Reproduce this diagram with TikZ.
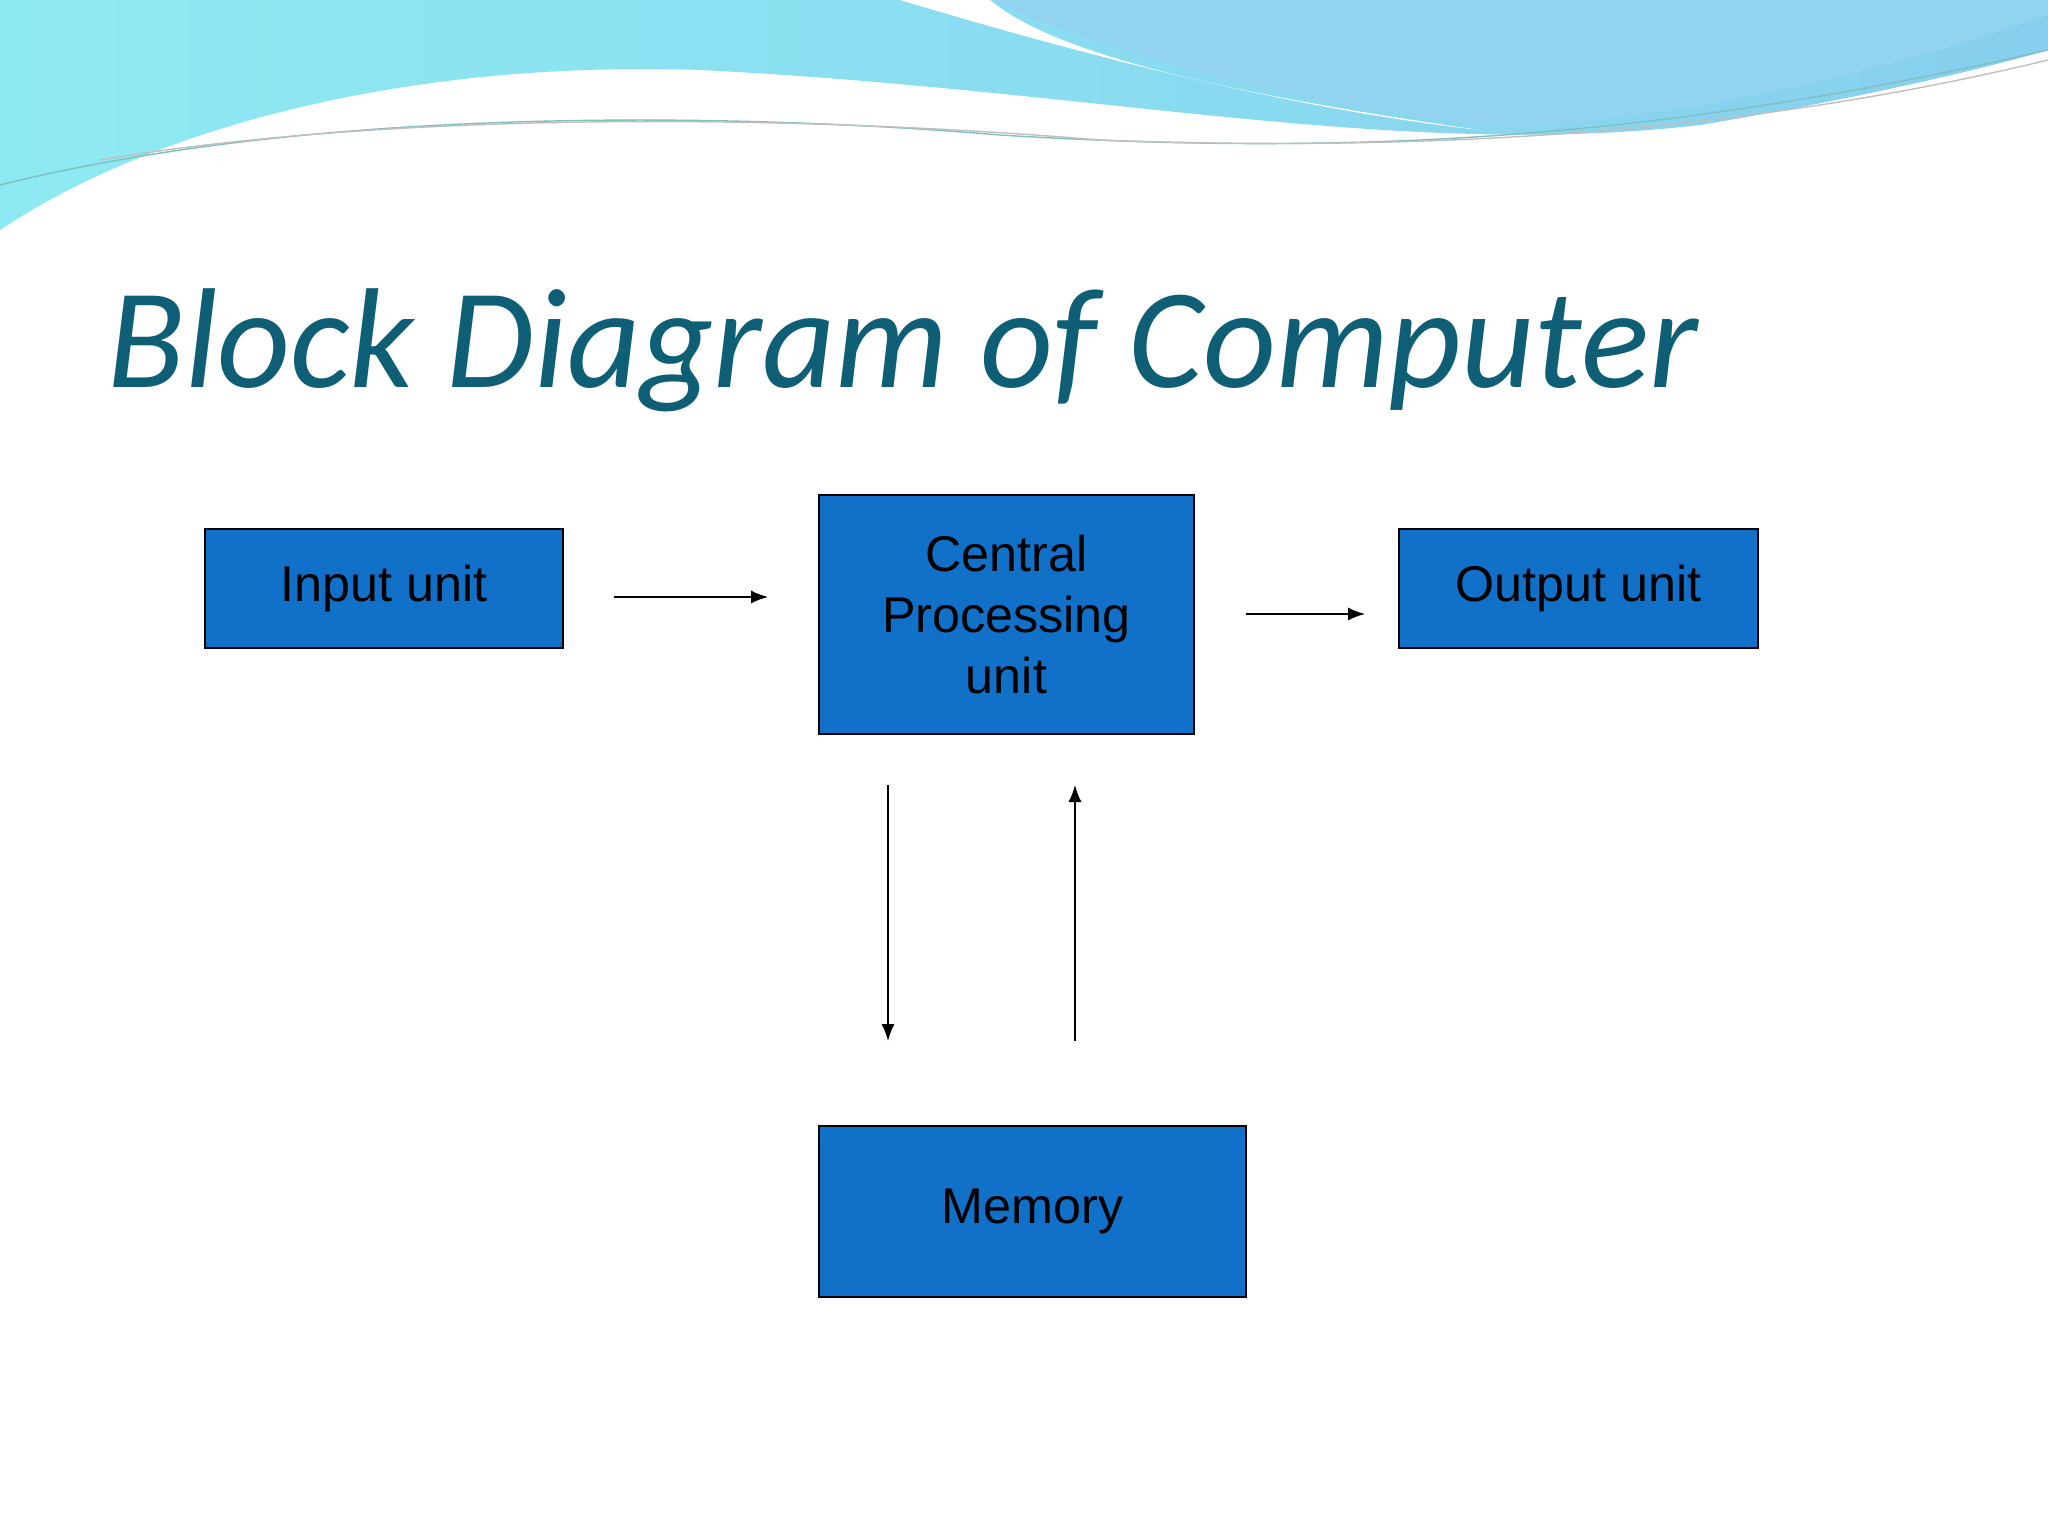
\documentclass[tikz,border=0pt]{standalone}
\usepackage{fontspec}
\setmainfont{Liberation Sans}
\newfontfamily\titlefont{Carlito}
\usetikzlibrary{positioning,arrows.meta}
\definecolor{boxblue}{HTML}{1170C8}
\definecolor{titleteal}{HTML}{0E5F75}
\definecolor{wavecyan}{HTML}{8EEAF2}
\definecolor{waveblue}{HTML}{86CFEE}
\tikzset{
  block/.style={rectangle,draw,fill=boxblue,font=\fontsize{14.3}{17.4}\selectfont,align=center,inner sep=0pt},
  flow/.style={-{Latex[length=1.7mm,width=1.3mm]},thin}
}
\begin{document}
\begin{tikzpicture}
  \useasboundingbox (0,0) rectangle (20.48,-15.36);
  % waves
  \shade[left color=wavecyan,right color=waveblue] (0,0) -- (0,-2.3)
    .. controls (1.5,-1.3) and (4,-0.6) .. (7,-0.7)
    .. controls (11,-0.9) and (14,-1.6) .. (17,-1.25)
    .. controls (18.5,-1) and (19.8,-0.7) .. (20.48,-0.5) -- (20.48,0) -- cycle;
  \fill[white] (9,0) .. controls (11,-0.6) and (13,-1.1) .. (14.8,-1.3)
    .. controls (12,-0.9) and (10.5,-0.5) .. (9.9,0) -- cycle;
  \fill[waveblue!90!white] (9.9,0) .. controls (11,-0.5) and (13,-1.1) .. (15.2,-1.28)
    .. controls (17.5,-1.1) and (19.5,-0.5) .. (20.48,-0.15) -- (20.48,0) -- cycle;
  \draw[teal!50,thin] (0,-1.85) .. controls (3,-1.1) and (7,-1.1) .. (10,-1.35)
    .. controls (14,-1.6) and (17,-1.3) .. (20.48,-0.5);
  \draw[gray!50,thin] (1,-1.6) .. controls (4,-1.1) and (8,-1.15) .. (11,-1.4)
    .. controls (15,-1.55) and (18,-1.2) .. (20.48,-0.6);
  % title
  \node[anchor=base west,text=titleteal,font=\titlefont\itshape\fontsize{40.5}{45}\selectfont,inner sep=0pt] (title) at (1.07,-3.88) {Block Diagram of Computer};
  % blocks
  \node[block,minimum width=3.58cm,minimum height=1.19cm] (input) at (3.84,-5.885) {Input unit};
  \node[block,minimum width=3.75cm,minimum height=2.39cm] (cpu) at (10.065,-6.145) {Central\\Processing\\unit};
  \node[block,minimum width=3.59cm,minimum height=1.19cm] (output) at (15.785,-5.885) {Output unit};
  \node[block,minimum width=4.27cm,minimum height=1.71cm] (memory) at (10.325,-12.115) {Memory};
  % connectors
  \coordinate (a1) at (6.14,-5.97);   \coordinate (a2) at (7.68,-5.97);
  \coordinate (b1) at (12.46,-6.14);  \coordinate (b2) at (13.65,-6.14);
  \coordinate (c1) at (8.88,-7.85);   \coordinate (c2) at (8.88,-10.41);
  \coordinate (d1) at (10.75,-10.41); \coordinate (d2) at (10.75,-7.85);
  \draw[flow] (a1) -- (a2);
  \draw[flow] (b1) -- (b2);
  \draw[flow] (c1) -- (c2);
  \draw[flow] (d1) -- (d2);
\end{tikzpicture}
\end{document}
